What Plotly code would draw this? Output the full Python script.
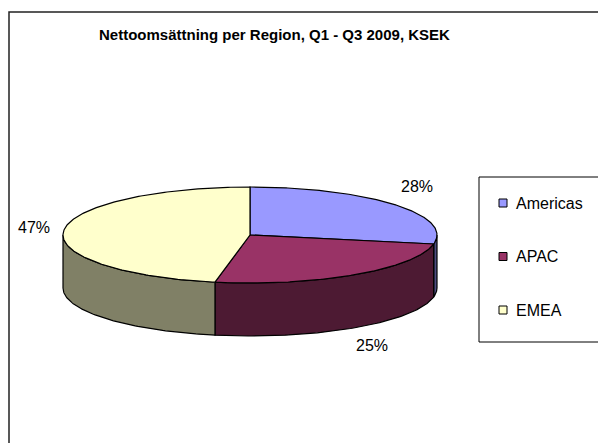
import numpy as np
import plotly.graph_objects as go

# ---- data ----
regions = ["Americas", "APAC", "EMEA"]
shares = [28, 25, 47]
top_colors = ["#9999FF", "#993366", "#FFFFCC"]
side_colors = ["#4D4D80", "#4D1A33", "#808066"]
title = "Nettoomsättning per Region, Q1 - Q3 2009, KSEK"

# ---- geometry (pixel-space axes) ----
W, H = 598, 443
cx, cy, rx, ry, depth = 250, 235, 187, 48, 53
FONT = "Liberation Sans, Arial, sans-serif"


def ell(t_deg, dy=0.0):
    t = np.radians(t_deg)
    return cx + rx * np.cos(t), cy - ry * np.sin(t) + dy


fig = go.Figure()

total = float(sum(shares))
bounds = []
a = 90.0
for v in shares:
    b = a - 360.0 * v / total
    bounds.append((a, b))
    a = b

# side walls (front half of ellipse)
for (a0, a1), col in zip(bounds, side_colors):
    for k in (-1, 0, 1):
        lo, hi = max(a1, -180 + 360 * k), min(a0, 0 + 360 * k)
        if hi - lo <= 0:
            continue
        ts = np.linspace(hi, lo, 80)
        xt, yt = ell(ts)
        xb, yb = ell(ts[::-1], depth)
        xs = np.concatenate([xt, xb, xt[:1]])
        ys = np.concatenate([yt, yb, yt[:1]])
        fig.add_trace(go.Scatter(x=xs, y=ys, mode="lines", fill="toself",
                                 fillcolor=col, line=dict(color="black", width=1.2),
                                 hoverinfo="skip", showlegend=False))

# top faces
for (a0, a1), col, name in zip(bounds, top_colors, regions):
    ts = np.linspace(a0, a1, 200)
    xa, ya = ell(ts)
    xs = np.concatenate([[cx], xa, [cx]])
    ys = np.concatenate([[cy], ya, [cy]])
    fig.add_trace(go.Scatter(x=xs, y=ys, mode="lines", fill="toself",
                             fillcolor=col, line=dict(color="black", width=1.2),
                             name=name, hoverinfo="skip", showlegend=False))

# percentage labels
for (a0, a1), v in zip(bounds, shares):
    m = np.radians((a0 + a1) / 2)
    lx = cx + 1.16 * rx * np.cos(m)
    ly = cy - 1.6 * ry * np.sin(m)
    if np.sin(m) < 0:
        ly += depth - 6
    fig.add_annotation(x=lx, y=ly, text=f"{v}%", showarrow=False,
                       font=dict(family=FONT, size=16, color="black"),
                       xanchor="center", yanchor="middle")

# legend (manual)
leg_y0, leg_step = 203, 53.5
ly_list = [leg_y0 + i * leg_step for i in range(len(regions))]
fig.add_trace(go.Scatter(x=[503] * len(regions), y=ly_list, mode="markers",
                         marker=dict(symbol="square", size=8, color=top_colors,
                                     line=dict(color="black", width=1)),
                         hoverinfo="skip", showlegend=False))
for name, yy in zip(regions, ly_list):
    fig.add_annotation(x=514, y=yy, text=name, showarrow=False, xanchor="left",
                       yanchor="middle", font=dict(family=FONT, size=16, color="black"))

shapes = [
    dict(type="rect", x0=9, y0=12, x1=W + 20, y1=H + 20, xref="x", yref="y",
         line=dict(color="#222222", width=1.5), fillcolor="rgba(0,0,0,0)", layer="below"),
    dict(type="rect", x0=479, y0=177, x1=W + 20, y1=342, xref="x", yref="y",
         line=dict(color="black", width=1), fillcolor="rgba(0,0,0,0)", layer="below"),
]

fig.add_annotation(x=274, y=34, text=f"<b>{title}</b>", showarrow=False,
                   font=dict(family=FONT, size=15, color="black"),
                   xanchor="center", yanchor="middle")

fig.update_layout(
    width=W, height=H, margin=dict(l=0, r=0, t=0, b=0),
    paper_bgcolor="white", plot_bgcolor="white",
    xaxis=dict(range=[0, W], visible=False, fixedrange=True),
    yaxis=dict(range=[H, 0], visible=False, fixedrange=True),
    shapes=shapes, showlegend=False,
)

fig.write_html("out.html")
